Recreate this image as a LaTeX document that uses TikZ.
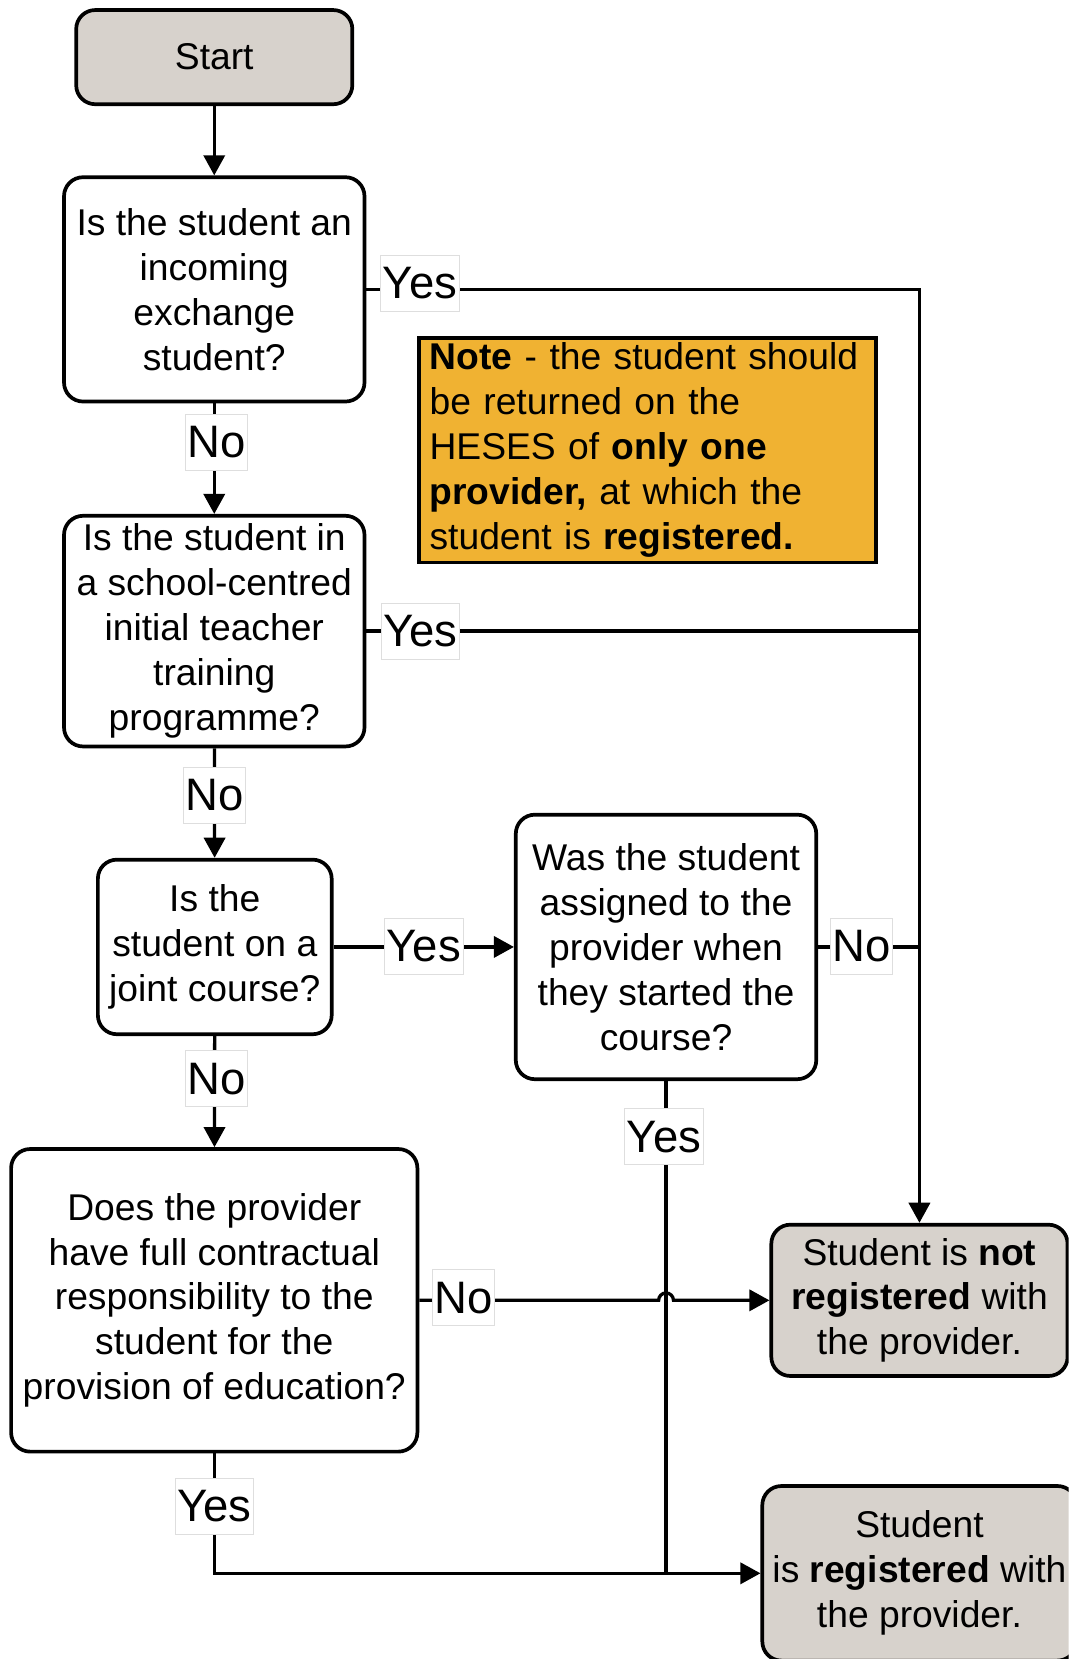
\documentclass[tikz,border=0pt]{standalone}
\usepackage{fontspec}
\setmainfont{Liberation Sans}
\usetikzlibrary{arrows.meta,calc}
\definecolor{termfill}{RGB}{215,210,204}
\definecolor{notefill}{RGB}{240,178,50}
\definecolor{tagline}{RGB}{222,222,222}
\tikzset{
  box/.style={draw=black, line width=3.5pt, rounded corners=18pt, fill=white,
    align=center, inner sep=0pt, font=\fontsize{35.2}{42.5}\selectfont},
  terminal/.style={box, fill=termfill},
  tag/.style={fill=white, draw=tagline, line width=0.8pt, inner xsep=2pt,
    inner ysep=0pt, minimum height=53pt, font=\fontsize{43}{50}\selectfont},
  flow/.style={line width=3.1pt},
  arr/.style={flow, -{Triangle[length=19pt,width=20pt]}},
}
\begin{document}
\begin{tikzpicture}[x=1pt,y=-1pt]
\useasboundingbox (0,0) rectangle (1010,1568);
\clip (0,0) rectangle (1010,1568);

% boxes
\node[terminal, minimum width=261pt, minimum height=89pt] (start) at (202.5,54) {Start};
\node[box, minimum width=284pt, minimum height=212pt] (q1) at (202.5,273.5)
  {Is the student an\\ incoming\\ exchange\\ student?};
\node[box, minimum width=284pt, minimum height=218pt] (q2) at (202.5,596.5)
  {Is the student in\\ a school-centred\\ initial teacher\\ training\\ programme?};
\node[box, minimum width=221pt, minimum height=165pt] (q3) at (203,895)
  {Is the\\ student on a\\ joint course?};
\node[box, minimum width=284pt, minimum height=250pt] (q4) at (629.5,895)
  {Was the student\\ assigned to the\\ provider when\\ they started the\\ course?};
\node[box, minimum width=384pt, minimum height=286pt] (q5) at (202.5,1229)
  {Does the provider\\ have full contractual\\ responsibility to the\\ student for the\\ provision of education?};
\node[terminal, minimum width=280pt, minimum height=143pt] (notreg) at (869,1229)
  {Student is \textbf{not}\\ \textbf{registered} with\\ the provider.};
\node[terminal, minimum width=297pt, minimum height=165pt] (reg) at (869,1487)
  {Student\\ is \textbf{registered} with\\ the provider.};

% note
\node[draw=black, line width=3pt, fill=notefill, text width=412pt, align=left,
  inner xsep=10pt, minimum height=212pt, font=\fontsize{35.2}{42.5}\selectfont]
  (note) at (612,425.5)
  {\textbf{Note} - the student should\\ be returned on the\\ HESES of \textbf{only one}\\
   \textbf{provider,} at which the\\ student is \textbf{registered.}};

% connectors
\draw[arr] (start) -- (q1);
\draw[arr] (q1) -- (q2);
\draw[arr] (q2) -- (q3);
\draw[arr] (q3) -- (q5);
\draw[arr] (q1.east) -| (notreg.north);
\draw[flow] (q2.east) -- (q2.east -| notreg.north);
\draw[flow] (q4.east) -- (q4.east -| notreg.north);
\draw[arr] (q3.east) -- (q3.east -| q4.west);
\draw[flow] (q4.south) -- (q4.south |- reg.west);
\draw[arr] (q5.south) |- (reg.west);
\draw[arr] (q5.east) -- ($(q5.east -| q4.south)+(-7,0)$)
  arc[start angle=180, end angle=360, radius=7] -- (notreg.west);

% branch labels
\node[tag] (y1) at (397,267.5) {Yes};
\node[tag] (n1) at (204.5,418) {No};
\node[tag] (y2) at (397.5,596.5) {Yes};
\node[tag] (n2) at (202.5,751.5) {No};
\node[tag] (y3) at (400.5,894.5) {Yes};
\node[tag] (n4) at (814,894.5) {No};
\node[tag] (y5) at (627.5,1074.5) {Yes};
\node[tag] (n3) at (204.5,1019.5) {No};
\node[tag] (n5) at (438,1226.5) {No};
\node[tag] (y6) at (202.5,1423.5) {Yes};
\end{tikzpicture}
\end{document}
